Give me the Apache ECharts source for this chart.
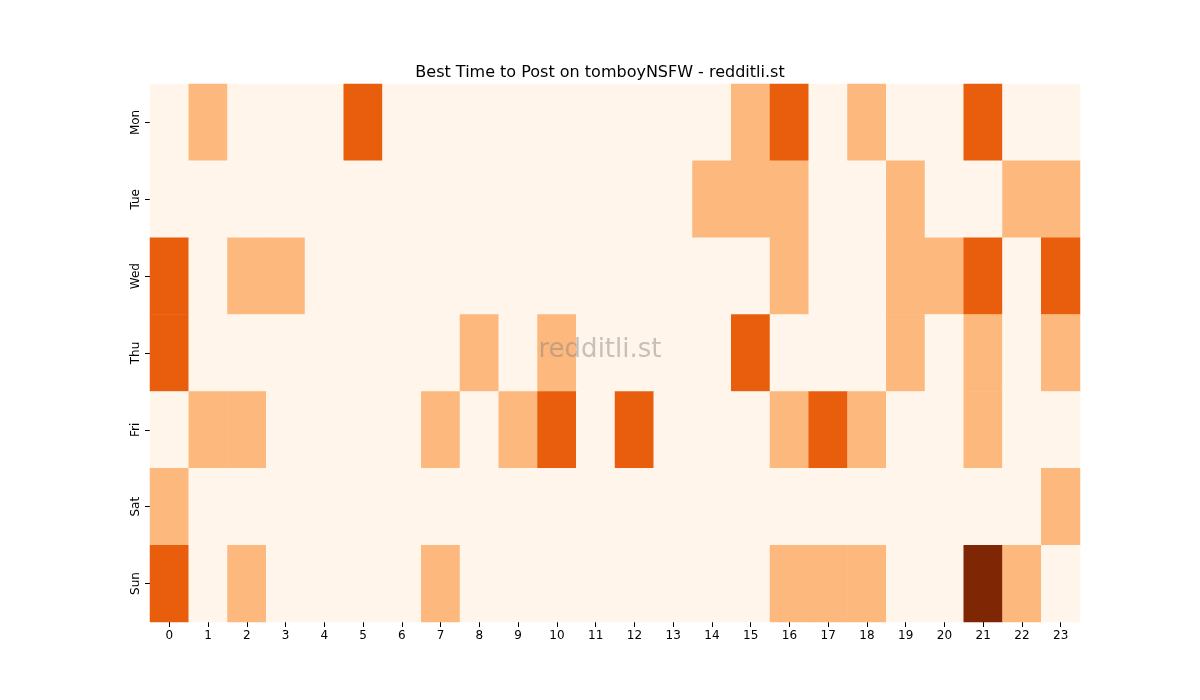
<!DOCTYPE html>
<html><head><meta charset="utf-8">
<script src="https://cdn.jsdelivr.net/npm/echarts@6/dist/echarts.min.js"></script>
<style>html,body{margin:0;background:#fff}#c{width:1200px;height:700px}</style>
</head><body><div id="c"></div>
<script>
const hours = ['0','1','2','3','4','5','6','7','8','9','10','11','12','13','14','15','16','17','18','19','20','21','22','23'];
const days = ['Mon','Tue','Wed','Thu','Fri','Sat','Sun'];
const Mon = [0,1,0,0,0,2,0,0,0,0,0,0,0,0,0,1,2,0,1,0,0,2,0,0];
const Tue = [0,0,0,0,0,0,0,0,0,0,0,0,0,0,1,1,1,0,0,1,0,0,1,1];
const Wed = [2,0,1,1,0,0,0,0,0,0,0,0,0,0,0,0,1,0,0,1,1,2,0,2];
const Thu = [2,0,0,0,0,0,0,0,1,0,1,0,0,0,0,2,0,0,0,1,0,1,0,1];
const Fri = [0,1,1,0,0,0,0,1,0,1,2,0,2,0,0,0,1,2,1,0,0,1,0,0];
const Sat = [1,0,0,0,0,0,0,0,0,0,0,0,0,0,0,0,0,0,0,0,0,0,0,1];
const Sun = [2,0,1,0,0,0,0,1,0,0,0,0,0,0,0,0,1,1,1,0,0,3,1,0];
const rows = [Mon,Tue,Wed,Thu,Fri,Sat,Sun];
const data = [];
rows.forEach((r,y)=>r.forEach((v,x)=>data.push([x,y,v])));
const chart = echarts.init(document.getElementById('c'));
chart.setOption({
  animation:false,
  title:{text:'Best Time to Post on tomboyNSFW - redditli.st',left:'center',top:60,textStyle:{fontFamily:'DejaVu Sans',fontSize:16,fontWeight:'normal',color:'#000'}},
  graphic:[{type:'text',left:'center',top:337,style:{text:'redditli.st',fontFamily:'DejaVu Sans',fontSize:26,fill:'rgba(128,128,128,0.45)'},z:100}],
  grid:{left:150,right:120,top:84,bottom:78},
  xAxis:{type:'category',data:hours,splitArea:{show:false},axisLine:{show:false},
    axisTick:{show:true,alignWithLabel:true,lineStyle:{color:'#000'}},
    axisLabel:{color:'#000',fontFamily:'DejaVu Sans',fontSize:12}},
  yAxis:{type:'category',data:days,inverse:true,axisLine:{show:false},
    axisTick:{show:true,alignWithLabel:true,lineStyle:{color:'#000'}},
    axisLabel:{color:'#000',fontFamily:'DejaVu Sans',fontSize:12,rotate:90}},
  visualMap:{show:false,type:'piecewise',dimension:2,pieces:[
    {value:0,color:'#fff5eb'},{value:1,color:'#fdb97d'},{value:2,color:'#e95e0d'},{value:3,color:'#7f2704'}]},
  series:[{type:'heatmap',data:data,itemStyle:{borderWidth:0}}]
});
</script></body></html>
